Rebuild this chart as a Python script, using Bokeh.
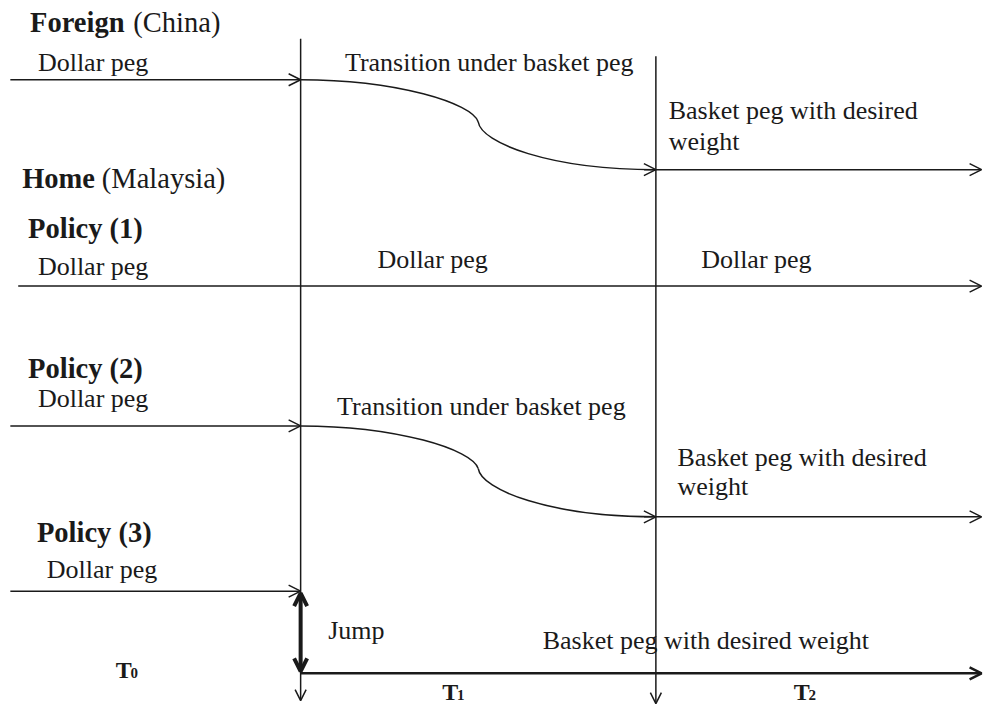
from bokeh.plotting import figure
from bokeh.models import Range1d, Arrow, OpenHead
from bokeh.core.properties import value
from bokeh.embed import file_html
from bokeh.resources import INLINE

# ---- diagram data (screen-like coordinates: x to the right, y downward) ----
# time boundaries
t_names = ["T0", "T1", "T2"]
t_x = [305, 666]             # regime switch points T0, T1
x_left = 10                  # start of the "before" period
x_right = 997                # end of the time axis

# row levels (y, downward)
foreign_y = [81, 173]        # dollar peg level, desired basket level
policy1_y = 292
policy2_y = [435, 528]
policy3_y = [604, 688]

# heading texts (y = vertical centre of the text)
head_bold = ["Foreign", "Home"]
head_bold_x = [30, 22]
head_bold_y = [22, 182]
head_norm = ["(China)", "(Malaysia)"]
head_norm_x = [135, 103]
head_norm_y = [22, 182]

policy_labels = ["Policy (1)", "Policy (2)", "Policy (3)"]
policy_x = [28, 28, 37]
policy_y = [233, 376, 544]

body_text = ["Dollar peg", "Transition under basket peg", "Basket peg with desired", "weight",
             "Dollar peg", "Dollar peg", "Dollar peg",
             "Dollar peg", "Transition under basket peg", "Basket peg with desired", "weight",
             "Dollar peg", "Jump", "Basket peg with desired weight"]
body_x = [38, 350, 679, 679,
          38, 383, 712,
          38, 342, 688, 688,
          47, 333, 551]
body_y = [63, 63, 112, 144,
          272, 265, 265,
          407, 415, 467, 497,
          582, 644, 654]

t_label_x = [117, 449, 806]
t_label_y = [685, 707, 707]
t_sub = ["0", "1", "2"]

INK = "#1a1a1a"
SERIF = value("Liberation Serif")

p = figure(width=987, height=708, x_range=Range1d(0, 1003), y_range=Range1d(724, 0),
           output_backend="svg", toolbar_location=None, min_border=0,
           x_axis_location=None, y_axis_location=None)
p.grid.visible = False
p.outline_line_color = None
p.background_fill_color = "white"
p.border_fill_color = "white"


def arrow(x0, y0, x1, y1, lw=1.5, head=True, start_head=False, size=12):
    kw = dict(x_start=x0, y_start=y0, x_end=x1, y_end=y1,
              line_color=INK, line_width=lw)
    kw["end"] = OpenHead(size=size, line_color=INK, line_width=lw) if head else None
    kw["start"] = OpenHead(size=size, line_color=INK, line_width=lw) if start_head else None
    p.add_layout(Arrow(**kw))


# vertical time lines
arrow(t_x[0], 39, t_x[0], 716, size=11)
arrow(t_x[1], 57, t_x[1], 719, size=11)

# Foreign row
arrow(x_left, foreign_y[0], t_x[0], foreign_y[0])
arrow(t_x[1], foreign_y[1], x_right, foreign_y[1])

# Policy 1
arrow(18, policy1_y, x_right, policy1_y)

# Policy 2
arrow(x_left, policy2_y[0], t_x[0], policy2_y[0])
arrow(t_x[1], policy2_y[1], x_right, policy2_y[1])

# Policy 3
arrow(x_left, policy3_y[0], t_x[0], policy3_y[0])
arrow(t_x[0], policy3_y[1], x_right, policy3_y[1], lw=2.5)
# jump (double arrow)
arrow(t_x[0], policy3_y[1] - 2, t_x[0], policy3_y[0] + 2, lw=4, start_head=True, size=13)


# transition curves (S-shaped, two cubic pieces)
def transition(y0, y1):
    xa, xb = t_x
    xm = xa + 0.5 * (xb - xa)
    ym = y0 + 0.47 * (y1 - y0)
    p.bezier(x0=[xa, xm], y0=[y0, ym], x1=[xm, xb], y1=[ym, y1],
             cx0=[xa + 0.27 * (xb - xa), xm + 3], cy0=[y0, ym + 0.23 * (y1 - y0)],
             cx1=[xm - 6, xa + 0.7 * (xb - xa)], cy1=[y0 + 0.26 * (y1 - y0), y1],
             line_color=INK, line_width=1.5)
    arrow(xb - 12, y1, xb, y1)


transition(*foreign_y)
transition(*policy2_y)

# texts
p.text(x=head_bold_x, y=head_bold_y, text=head_bold, text_font=SERIF,
       text_font_size=value("28.5px"), text_font_style="bold", text_color=INK,
       text_baseline="middle")
p.text(x=head_norm_x, y=head_norm_y, text=head_norm, text_font=SERIF,
       text_font_size=value("28.5px"), text_color=INK, text_baseline="middle")
p.text(x=policy_x, y=policy_y, text=policy_labels, text_font=SERIF,
       text_font_size=value("28.5px"), text_font_style="bold", text_color=INK,
       text_baseline="middle")
p.text(x=body_x, y=body_y, text=body_text, text_font=SERIF,
       text_font_size=value("26px"), text_color=INK, text_baseline="middle")
p.text(x=t_label_x, y=t_label_y, text=["T"] * 3, text_font=SERIF,
       text_font_size=value("24px"), text_font_style="bold", text_color=INK,
       text_baseline="middle")
p.text(x=[x + 15 for x in t_label_x], y=[y + 3 for y in t_label_y], text=t_sub,
       text_font=SERIF, text_font_size=value("15px"), text_font_style="bold",
       text_color=INK, text_baseline="middle")

open("out.html", "w").write(file_html(p, INLINE))
